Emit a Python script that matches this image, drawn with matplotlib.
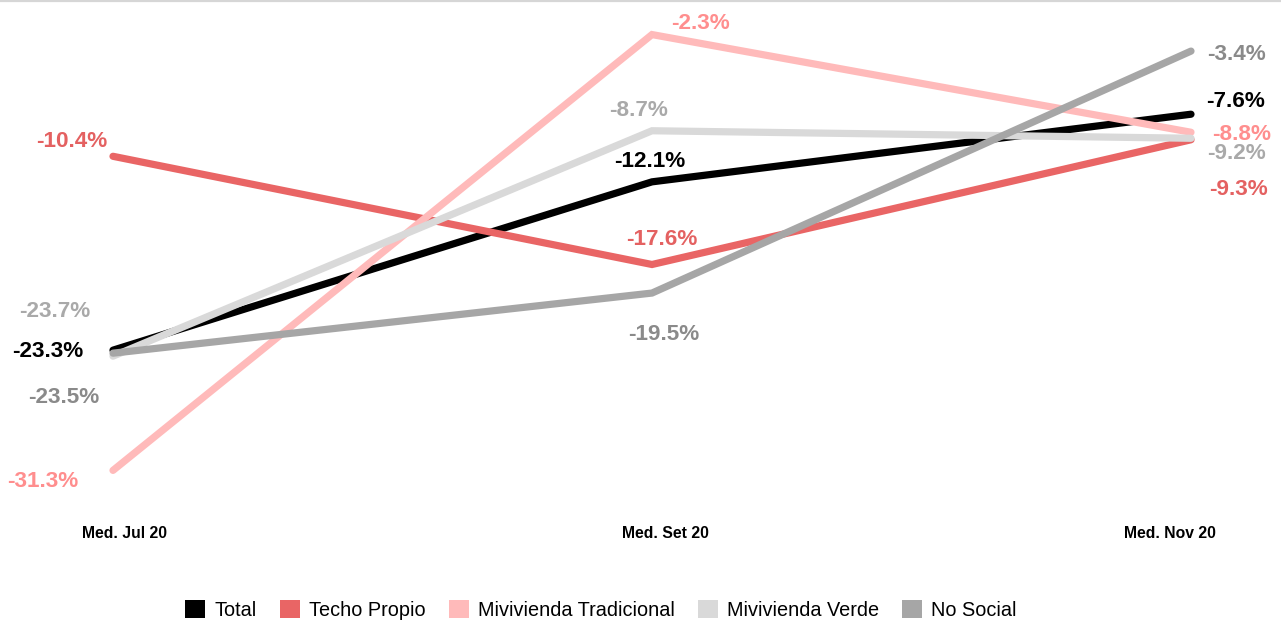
import matplotlib
matplotlib.use("Agg")
import matplotlib.pyplot as plt
from matplotlib.patches import Patch
from matplotlib.lines import Line2D

plt.rcParams['font.family'] = ['Liberation Sans', 'DejaVu Sans']

# Data
periods = ["Med. Jul 20", "Med. Set 20", "Med. Nov 20"]
series_names = ["Total", "Techo Propio", "Mivivienda Tradicional", "Mivivienda Verde", "No Social"]
total = [-23.3, -12.1, -7.6]
techo_propio = [-10.4, -17.6, -9.3]
mivivienda_tradicional = [-31.3, -2.3, -8.8]
mivivienda_verde = [-23.7, -8.7, -9.2]
no_social = [-23.5, -19.5, -3.4]

# Styling
line_colors = ["#000000", "#e96565", "#ffbaba", "#d9d9d9", "#a6a6a6"]
label_colors = ["#000000", "#e46161", "#ff8e8e", "#a9a9a9", "#8a8a8a"]
# label offsets from each point, in pixels (right, down)
label_offsets = [
    [(-65, 1), (-2, -20), (45, -13)],
    [(-41, -15), (10, -25), (48, 50)],
    [(-70, 11), (49, -11), (51, 2)],
    [(-58, -45), (-13, -20), (45, 15)],
    [(-49, 44), (12, 41), (46, 3)],
]
period_label_dx = [11, 13, -21]

values = [total, techo_propio, mivivienda_tradicional, mivivienda_verde, no_social]

W, H = 1281, 621
fig = plt.figure(figsize=(W / 100, H / 100), dpi=100)
ax = fig.add_axes([0, (H - 526) / H, 1, 526 / H])
ax.set_xlim(-113 / 539, (W - 113) / 539)
ax.set_ylim(-35, 0)
ax.axis("off")

x = list(range(len(periods)))
px = 0.72  # points per pixel at 100 dpi

for vals, lc, tc, offs in zip(values, line_colors, label_colors, label_offsets):
    ax.plot(x, vals, color=lc, lw=5.2, solid_capstyle="round",
            solid_joinstyle="miter", clip_on=False)
    for xi, v, (dx, dy) in zip(x, vals, offs):
        ax.annotate(f"{v:.1f}%", (xi, v), xytext=(dx * px, -dy * px),
                    textcoords="offset points", ha="center", va="center",
                    fontsize=16.2, fontweight="bold", color=tc,
                    annotation_clip=False)

for xi, lab, dx in zip(x, periods, period_label_dx):
    ax.annotate(lab, (xi, 0), xycoords=("data", "axes fraction"),
                xytext=(dx * px, -7 * px), textcoords="offset points",
                ha="center", va="center", fontsize=11.3, fontweight="bold",
                color="#000000", annotation_clip=False)

# thin rule across the top
fig.add_artist(Line2D([0, 1], [1 - 1 / H, 1 - 1 / H], transform=fig.transFigure,
                      color="#d6d6d6", lw=1.6))

handles = [Patch(facecolor=c, edgecolor="none") for c in line_colors]
fig.legend(handles, series_names, loc="center", bbox_to_anchor=(601 / W, 1 - 610 / H),
           ncol=5, frameon=False, fontsize=14.3, handlelength=1.0, handleheight=1.0,
           handletextpad=0.45, columnspacing=1.18, borderaxespad=0, borderpad=0)

fig.savefig("out.png", dpi=100, facecolor="white")
